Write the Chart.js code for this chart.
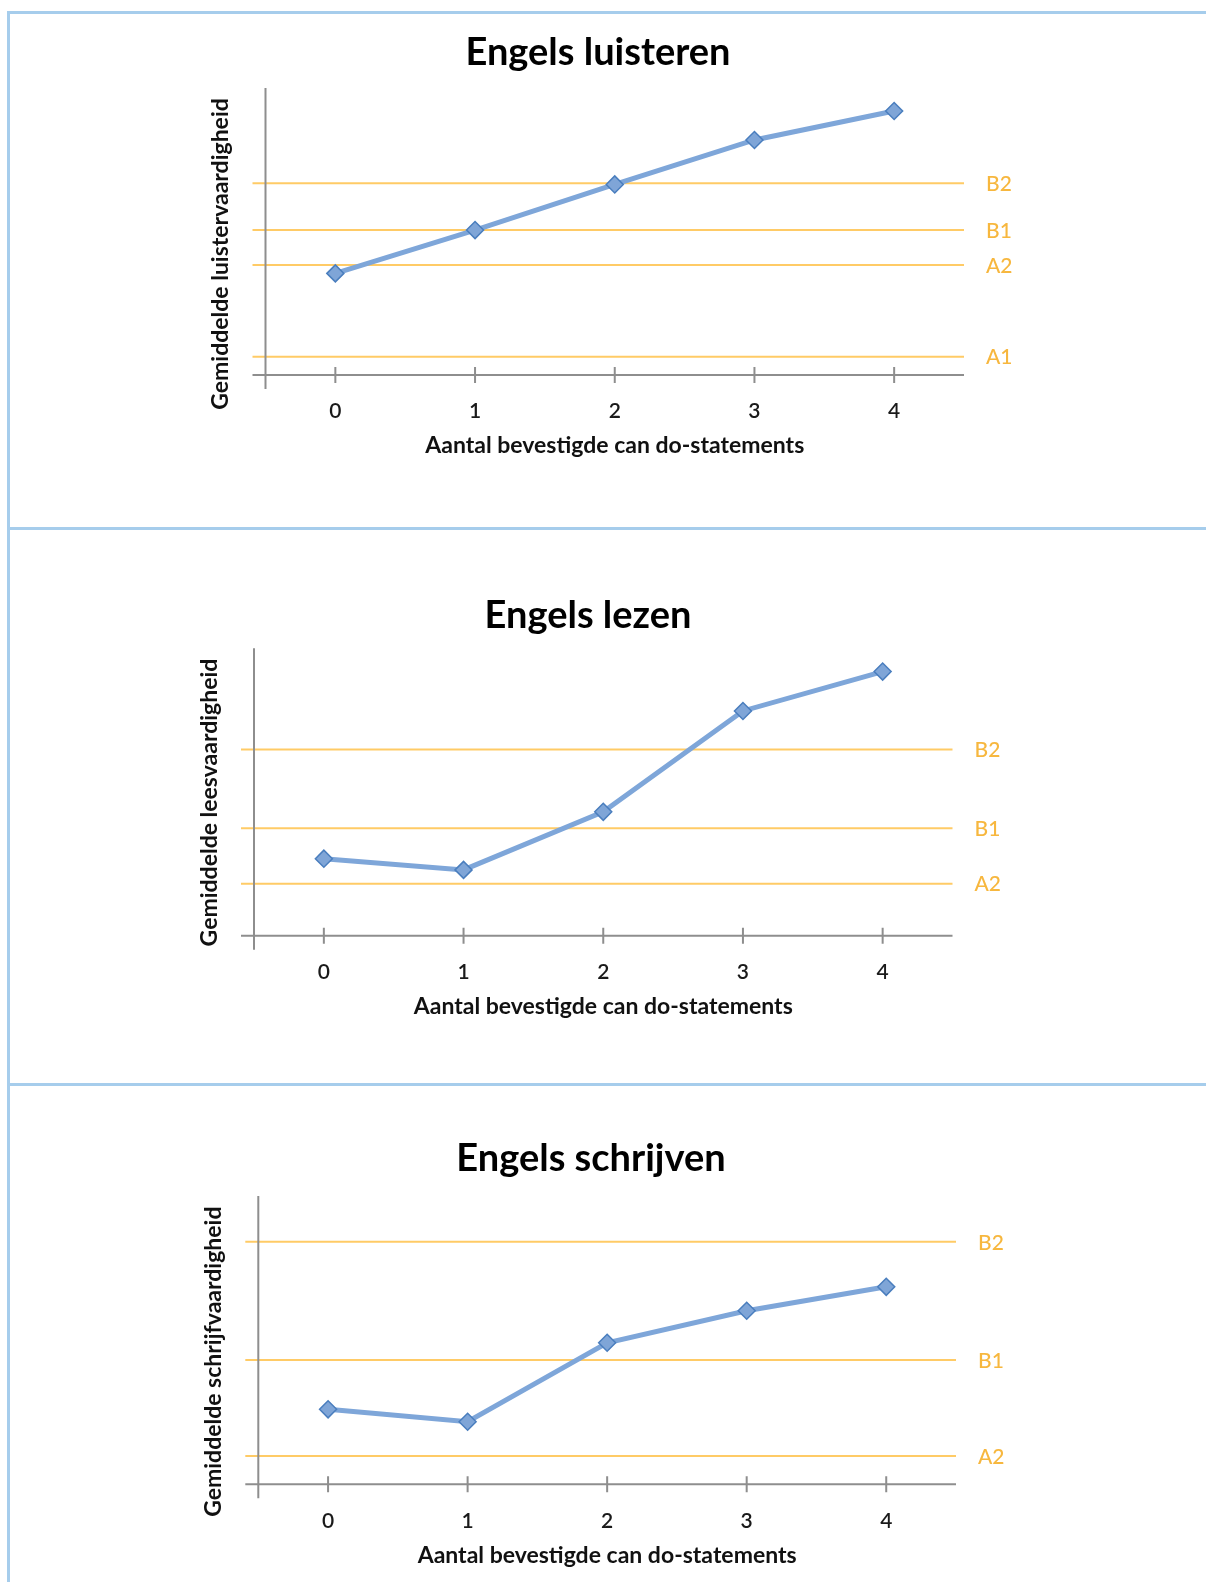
<!DOCTYPE html>
<html>
<head>
<meta charset="utf-8">
<title>Engels: luisteren, lezen, schrijven</title>
<script src="https://cdn.jsdelivr.net/npm/chart.js@4.4.1/dist/chart.umd.min.js"></script>
<style>
  html, body { margin: 0; padding: 0; background: #ffffff; }
  body { position: relative; width: 1206px; height: 1582px; overflow: hidden; }
  canvas { position: absolute; left: 0; }
  .rule { position: absolute; background: #A6CDEC; z-index: 2; }
</style>
</head>
<body>
<canvas id="luisteren" width="1206" height="527" style="top:0px"></canvas>
<canvas id="lezen" width="1206" height="557" style="top:527px"></canvas>
<canvas id="schrijven" width="1206" height="498" style="top:1084px"></canvas>

<div class="rule" style="left:7px; top:11px; width:1199px; height:3px"></div>
<div class="rule" style="left:7px; top:11px; width:3px; height:1571px"></div>
<div class="rule" style="left:7px; top:527px; width:1199px; height:3px"></div>
<div class="rule" style="left:7px; top:1083px; width:1199px; height:3px"></div>

<script>
// Number of confirmed can-do statements (x categories)
const categories = ['0', '1', '2', '3', '4'];

// Mean skill score per category (scale 0-100)
const luisterenScores = [35.4, 50.5, 66.4, 81.9, 92.0];
const lezenScores     = [26.8, 22.9, 43.1, 78.2, 91.9];
const schrijvenScores = [26.0, 21.7, 49.1, 60.2, 68.5];

// CEFR level cut-offs on the same scale
const luisterenLevels      = ['A1', 'A2', 'B1', 'B2'];
const luisterenLevelScores = [6.4, 38.3, 50.5, 66.8];
const lezenLevels          = ['A2', 'B1', 'B2'];
const lezenLevelScores     = [18.1, 37.4, 64.8];
const schrijvenLevels      = ['A2', 'B1', 'B2'];
const schrijvenLevelScores = [9.8, 43.1, 84.1];

const scoreMin = 0;
const scoreMax = 100;

const FONT = 'Lato';
const TITLE_SIZE = 38;
const TICK_SIZE = 21;
const AXIS_TITLE_SIZE = 23;
const LEVEL_SIZE = 21;

// Level lines, Excel-style crossing axes and the rotated y-axis title
const levelPlugin = {
  id: 'levels',
  beforeDatasetsDraw(chart, args, opts) {
    const { ctx, chartArea: a, scales: { x, y } } = chart;
    ctx.save();

    // horizontal CEFR level lines with their names on the right
    ctx.lineWidth = 2;
    ctx.font = '500 ' + LEVEL_SIZE + 'px ' + FONT;
    ctx.textAlign = 'left';
    ctx.textBaseline = 'middle';
    opts.values.forEach((v, i) => {
      const py = y.getPixelForValue(v);
      ctx.strokeStyle = '#FFCB66';
      ctx.beginPath();
      ctx.moveTo(a.left - 13, py);
      ctx.lineTo(a.right, py);
      ctx.stroke();
      ctx.fillStyle = '#F7B73E';
      ctx.fillText(opts.names[i], a.right + 22, py + 1);
    });

    // axis lines
    ctx.strokeStyle = '#8E8E8E';
    ctx.lineWidth = 2;
    ctx.beginPath();
    ctx.moveTo(a.left - 13, a.bottom);
    ctx.lineTo(a.right, a.bottom);
    ctx.moveTo(a.left, a.top);
    ctx.lineTo(a.left, a.bottom + 14);
    // cross tick marks at each category
    categories.forEach((c, i) => {
      const px = x.getPixelForValue(i);
      ctx.moveTo(px, a.bottom - 8);
      ctx.lineTo(px, a.bottom + 8);
    });
    ctx.stroke();

    // y-axis title
    ctx.translate(opts.titleX, opts.titleY);
    ctx.rotate(-Math.PI / 2);
    ctx.font = 'bold ' + AXIS_TITLE_SIZE + 'px ' + FONT;
    ctx.fillStyle = '#111111';
    ctx.textAlign = 'center';
    ctx.textBaseline = 'middle';
    ctx.fillText(opts.title, 0, 0);
    ctx.restore();
  }
};

function makeChart(canvasId, title, yTitle, scores, levelNames, levelScores, box) {
  const canvas = document.getElementById(canvasId);
  const W = canvas.width;
  const H = canvas.height;
  const titleLH = TITLE_SIZE * 1.2;
  const tickLH = TICK_SIZE * 1.2;
  const xTitleLH = AXIS_TITLE_SIZE * 1.2;
  const padLeft = box.titleX * 2 - box.right;

  return new Chart(canvas, {
    type: 'line',
    data: {
      labels: categories,
      datasets: [{
        data: scores,
        borderColor: '#7EA6D9',
        borderWidth: 5,
        tension: 0,
        fill: false,
        clip: false,
        pointStyle: 'rectRot',
        pointRadius: 8.5,
        pointBackgroundColor: '#7FA5D7',
        pointBorderColor: '#4A7EBE',
        pointBorderWidth: 1.5
      }]
    },
    options: {
      responsive: false,
      animation: false,
      events: [],
      layout: { padding: { left: padLeft, right: W - box.right, top: 0, bottom: 0 } },
      plugins: {
        legend: { display: false },
        tooltip: { enabled: false },
        title: {
          display: true,
          text: title,
          color: '#000000',
          font: { family: FONT, size: TITLE_SIZE, weight: 'bold', lineHeight: 1.2 },
          padding: { top: box.titleY - titleLH / 2, bottom: box.top - box.titleY - titleLH / 2 }
        },
        levels: {
          names: levelNames,
          values: levelScores,
          title: yTitle,
          titleX: box.yTitleX,
          titleY: box.yTitleY
        }
      },
      scales: {
        x: {
          offset: true,
          grid: { display: false, drawTicks: false },
          border: { display: false },
          ticks: {
            color: '#1A1A1A',
            font: { family: FONT, size: TICK_SIZE, weight: 600, lineHeight: 1.2 },
            padding: box.tickY - box.bottom - tickLH / 2,
            maxRotation: 0,
            autoSkip: false
          },
          title: {
            display: true,
            text: 'Aantal bevestigde can do-statements',
            color: '#111111',
            font: { family: FONT, size: AXIS_TITLE_SIZE, weight: 'bold', lineHeight: 1.2 },
            padding: { top: 0, bottom: H - box.xTitleY - xTitleLH / 2 }
          },
          afterFit(s) { s.height = H - box.bottom; }
        },
        y: {
          min: scoreMin,
          max: scoreMax,
          grid: { display: false, drawTicks: false },
          border: { display: false },
          ticks: { display: false },
          afterFit(s) { s.width = box.left - padLeft; }
        }
      }
    },
    plugins: [levelPlugin]
  });
}

function drawAll() {
  makeChart('luisteren', 'Engels luisteren', 'Gemiddelde luistervaardigheid',
    luisterenScores, luisterenLevels, luisterenLevelScores,
    { left: 265.5, right: 964, top: 88, bottom: 375, titleX: 598, titleY: 52.5,
      tickY: 411, xTitleY: 446, yTitleX: 221, yTitleY: 254 });

  makeChart('lezen', 'Engels lezen', 'Gemiddelde leesvaardigheid',
    lezenScores, lezenLevels, lezenLevelScores,
    { left: 254, right: 952.5, top: 121.3, bottom: 408.7, titleX: 588, titleY: 88.6,
      tickY: 445, xTitleY: 480, yTitleX: 210, yTitleY: 275.5 });

  makeChart('schrijven', 'Engels schrijven', 'Gemiddelde schrijfvaardigheid',
    schrijvenScores, schrijvenLevels, schrijvenLevelScores,
    { left: 258.3, right: 956, top: 112, bottom: 400.3, titleX: 591, titleY: 74.6,
      tickY: 437, xTitleY: 472, yTitleX: 213.5, yTitleY: 277.7 });
}

if (document.fonts && document.fonts.load) {
  Promise.all([
    document.fonts.load('bold ' + TITLE_SIZE + 'px ' + FONT),
    document.fonts.load('600 ' + TICK_SIZE + 'px ' + FONT),
    document.fonts.load('500 ' + LEVEL_SIZE + 'px ' + FONT)
  ]).then(drawAll, drawAll);
} else {
  drawAll();
}
</script>
</body>
</html>
